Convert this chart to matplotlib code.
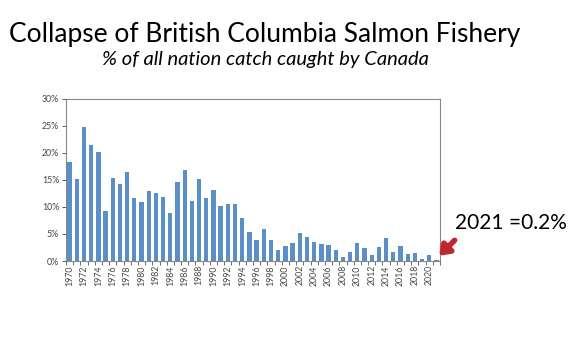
import numpy as np
import matplotlib.pyplot as plt
from matplotlib.ticker import FuncFormatter

years = list(range(1970, 2022))
share = [18.3, 15.2, 24.75, 21.5, 20.2, 9.3, 15.4, 14.2, 16.4, 11.6,
         11.0, 13.0, 12.5, 11.85, 8.9, 14.6, 16.85, 11.2, 15.25, 11.6,
         13.2, 10.25, 10.5, 10.5, 8.0, 5.4, 3.95, 5.85, 3.95, 2.1,
         2.7, 3.4, 5.25, 4.45, 3.6, 3.15, 3.0, 2.05, 0.75, 1.7,
         3.25, 2.4, 1.05, 2.65, 4.25, 1.6, 2.7, 1.35, 1.5, 0.35,
         1.05, 0.2]

plt.rcParams['font.family'] = ['Lato', 'DejaVu Sans']

fig = plt.figure(figsize=(5.79, 3.41), dpi=100)
ax = fig.add_axes([0.114, 0.2346, 0.646, 0.4751])

x = np.arange(len(years))
ax.bar(x, share, width=0.6, color='#5B8FC7')

ax.set_xlim(-0.5, len(years) - 0.5)
ax.set_ylim(0, 30)
ax.set_yticks(range(0, 31, 5))
ax.yaxis.set_major_formatter(FuncFormatter(lambda v, p: f'{v:.0f}%'))
ax.tick_params(axis='y', labelsize=6.3, colors='#444444', length=3, width=0.6, pad=2)

ax.set_xticks(x[::2])
ax.set_xticklabels([str(y) for y in years[::2]], rotation=90)
ax.set_xticks(np.arange(-0.5, len(years), 1), minor=True)
ax.tick_params(axis='x', which='major', length=0, labelsize=6.3, labelcolor='#444444', pad=3)
ax.tick_params(axis='x', which='minor', length=3, width=0.6, color='#555555')

for s in ax.spines.values():
    s.set_color('#888888')
    s.set_linewidth(0.8)

fig.text(0.458, 0.9, 'Collapse of British Columbia Salmon Fishery',
         ha='center', va='center', fontsize=19)
fig.text(0.458, 0.825, '% of all nation catch caught by Canada',
         ha='center', va='center', fontsize=14.5, style='italic')

ax.annotate('', xy=(len(years) - 0.9, 0.6), xytext=(len(years) + 1.8, 4.2),
            annotation_clip=False,
            arrowprops=dict(arrowstyle='-|>,head_width=0.4,head_length=0.55',
                            color='#C0272D', lw=4))
fig.text(0.785, 0.347, '2021 =0.2%', ha='left', va='center', fontsize=15)

fig.savefig('out.png', dpi=100)
